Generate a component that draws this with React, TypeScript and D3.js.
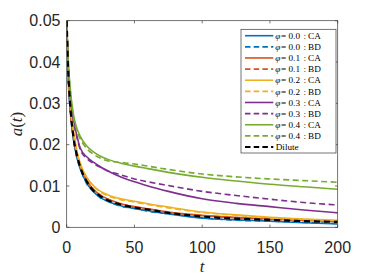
import * as d3 from "d3"

// time grid shared by all series
const tGrid = [0, 1, 2.5, 5, 7.5, 10, 15, 20, 25, 30, 40, 50, 60, 75, 100, 125, 150, 175, 200]

const phi00CA = [0.05, 0.038, 0.029, 0.0212, 0.017, 0.0141, 0.0106, 0.0085, 0.0072, 0.0063, 0.0052, 0.0045, 0.004, 0.0032, 0.0022, 0.0018, 0.0015, 0.0011, 0.0008]
const phi00BD = [0.05, 0.037, 0.0288, 0.0214, 0.0168, 0.0143, 0.0104, 0.0086, 0.0071, 0.0064, 0.0051, 0.0046, 0.0039, 0.0033, 0.0023, 0.0017, 0.0015, 0.0012, 0.0009]
const phi01CA = [0.05, 0.0385, 0.0295, 0.022, 0.0178, 0.0149, 0.0113, 0.0091, 0.0078, 0.0069, 0.0057, 0.005, 0.0045, 0.0037, 0.0029, 0.0024, 0.002, 0.0017, 0.0014]
const phi01BD = [0.05, 0.0385, 0.0293, 0.0218, 0.0176, 0.0147, 0.0112, 0.009, 0.0077, 0.0068, 0.0056, 0.0049, 0.0044, 0.0036, 0.0028, 0.0023, 0.0019, 0.0016, 0.0013]
const phi02CA = [0.05, 0.039, 0.0305, 0.0235, 0.0185, 0.0155, 0.012, 0.01, 0.0087, 0.0079, 0.0069, 0.0063, 0.0057, 0.0049, 0.0037, 0.003, 0.0024, 0.002, 0.0017]
const phi02BD = [0.05, 0.0388, 0.0302, 0.0232, 0.0183, 0.0152, 0.0118, 0.0098, 0.0085, 0.0077, 0.0067, 0.0061, 0.0055, 0.0047, 0.0036, 0.0029, 0.0023, 0.0019, 0.0016]
const phi03CA = [0.05, 0.04, 0.0325, 0.0262, 0.0222, 0.0192, 0.017, 0.0157, 0.0146, 0.0137, 0.0122, 0.011, 0.01, 0.0087, 0.0069, 0.0058, 0.005, 0.0042, 0.0035]
const phi03BD = [0.05, 0.0395, 0.032, 0.0258, 0.0218, 0.0188, 0.0166, 0.0154, 0.0145, 0.0137, 0.0127, 0.0117, 0.011, 0.0101, 0.0087, 0.0077, 0.0068, 0.006, 0.0054]
const phi04CA = [0.05, 0.041, 0.034, 0.0272, 0.024, 0.022, 0.0196, 0.0182, 0.0172, 0.0165, 0.0155, 0.0148, 0.0142, 0.0133, 0.0121, 0.0112, 0.0104, 0.0098, 0.0092]
const phi04BD = [0.05, 0.0405, 0.0335, 0.0266, 0.0234, 0.0214, 0.019, 0.0176, 0.0167, 0.0161, 0.0157, 0.0153, 0.0148, 0.014, 0.0129, 0.0122, 0.0117, 0.0113, 0.0109]
const dilute = [0.05, 0.039, 0.03, 0.0218, 0.0175, 0.0146, 0.011, 0.0088, 0.0075, 0.0066, 0.0055, 0.0048, 0.0043, 0.0035, 0.0026, 0.0021, 0.0018, 0.0015, 0.0013]

const phiLabels = ["0.0", "0.0", "0.1", "0.1", "0.2", "0.2", "0.3", "0.3", "0.4", "0.4"]
const methodLabels = ["CA", "BD", "CA", "BD", "CA", "BD", "CA", "BD", "CA", "BD"]
const xTicks = [0, 50, 100, 150, 200]
const yTicks = [0, 0.01, 0.02, 0.03, 0.04, 0.05]
const yTickLabels = ["0", "0.01", "0.02", "0.03", "0.04", "0.05"]

const blue = "#0072BD"
const orange = "#D95319"
const yellow = "#EDB120"
const purple = "#7E2F8E"
const green = "#77AC30"

const series = [
  { values: phi00CA, color: blue, dash: false },
  { values: phi00BD, color: blue, dash: true },
  { values: phi01CA, color: orange, dash: false },
  { values: phi01BD, color: orange, dash: true },
  { values: phi02CA, color: yellow, dash: false },
  { values: phi02BD, color: yellow, dash: true },
  { values: phi03CA, color: purple, dash: false },
  { values: phi03BD, color: purple, dash: true },
  { values: phi04CA, color: green, dash: false },
  { values: phi04BD, color: green, dash: true },
  { values: dilute, color: "#000000", dash: true },
]

const W = 374
const H = 280
const left = 66.7
const right = 337.7
const top = 20.7
const bottom = 227.3

export default function App() {
  const x = d3.scaleLinear().domain([0, 200]).range([left, right])
  const y = d3.scaleLinear().domain([0, 0.05]).range([bottom, top])

  const line = d3
    .line<number>()
    .x((_, i) => x(tGrid[i]))
    .y((d) => y(d))
    .curve(d3.curveMonotoneX)

  const axisColor = "#3a3a3a"
  const tickLen = 2.7
  const serif = "'Liberation Serif', 'DejaVu Serif', serif"
  const sans = "'Liberation Sans', Arial, sans-serif"

  // legend geometry
  const lgX = 241
  const lgY = 29.3
  const lgW = 95
  const lgH = 123.7
  const rowH = 11.13
  const row0 = 35.7

  return (
    <svg width={W} height={H} style={{ position: "absolute", left: 0, top: 0, background: "#fff" }}>
      <rect x={0} y={0} width={W} height={H} fill="#fff" />
      <defs>
        <clipPath id="plotClip">
          <rect x={left} y={top} width={right - left} height={bottom - top} />
        </clipPath>
      </defs>

      <g clipPath="url(#plotClip)">
        {series.map((s, i) => (
          <path
            key={i}
            d={line(s.values) ?? ""}
            fill="none"
            stroke={s.color}
            strokeWidth={i === series.length - 1 ? 2.2 : 1.6}
            strokeDasharray={s.dash ? (i === series.length - 1 ? "6,4" : "6,3.5") : undefined}
          />
        ))}
      </g>

      {/* axes box */}
      <rect x={left} y={top} width={right - left} height={bottom - top} fill="none" stroke={axisColor} strokeWidth={0.7} />

      {xTicks.map((t) => (
        <g key={"x" + t}>
          <line x1={x(t)} x2={x(t)} y1={bottom} y2={bottom - tickLen} stroke={axisColor} strokeWidth={0.7} />
          <line x1={x(t)} x2={x(t)} y1={top} y2={top + tickLen} stroke={axisColor} strokeWidth={0.7} />
          <text x={x(t)} y={252.5} textAnchor="middle" fontFamily={sans} fontSize={16} fill="#262626">
            {t}
          </text>
        </g>
      ))}

      {yTicks.map((v, i) => (
        <g key={"y" + v}>
          <line x1={left} x2={left + tickLen} y1={y(v)} y2={y(v)} stroke={axisColor} strokeWidth={0.7} />
          <line x1={right} x2={right - tickLen} y1={y(v)} y2={y(v)} stroke={axisColor} strokeWidth={0.7} />
          <text x={60.5} y={y(v) + 5.7} textAnchor="end" fontFamily={sans} fontSize={16} fill="#262626">
            {yTickLabels[i]}
          </text>
        </g>
      ))}

      <text
        transform={`translate(21.5, ${(top + bottom) / 2}) rotate(-90)`}
        textAnchor="middle"
        fontFamily={serif}
        fontSize={17}
        fill="#262626"
      >
        <tspan fontStyle="italic">a</tspan>(<tspan fontStyle="italic">t</tspan>)
      </text>
      <text x={(left + right) / 2} y={272} textAnchor="middle" fontFamily={serif} fontStyle="italic" fontSize={17} fill="#262626">
        t
      </text>

      {/* legend */}
      <rect x={lgX} y={lgY} width={lgW} height={lgH} fill="#fff" stroke={axisColor} strokeWidth={0.7} />
      {series.map((s, i) => {
        const cy = row0 + i * rowH
        const isDilute = i === series.length - 1
        return (
          <g key={"lg" + i} fontFamily={serif} fontSize={9.2} fill="#000">
            <line
              x1={245}
              x2={273.3}
              y1={cy}
              y2={cy}
              stroke={s.color}
              strokeWidth={isDilute ? 2 : 1.6}
              strokeDasharray={s.dash ? "5.5,3.2" : undefined}
            />
            {isDilute ? (
              <text x={275.7} y={cy + 3.2}>Dilute</text>
            ) : (
              <>
                <text x={275.3} y={cy + 3.2} fontStyle="italic">φ</text>
                <text x={281} y={cy + 3.2}>=</text>
                <text x={288.5} y={cy + 3.2}>{phiLabels[i]}</text>
                <text x={303.5} y={cy + 3.2}>:</text>
                <text x={308} y={cy + 3.2}>{methodLabels[i]}</text>
              </>
            )}
          </g>
        )
      })}
    </svg>
  )
}
